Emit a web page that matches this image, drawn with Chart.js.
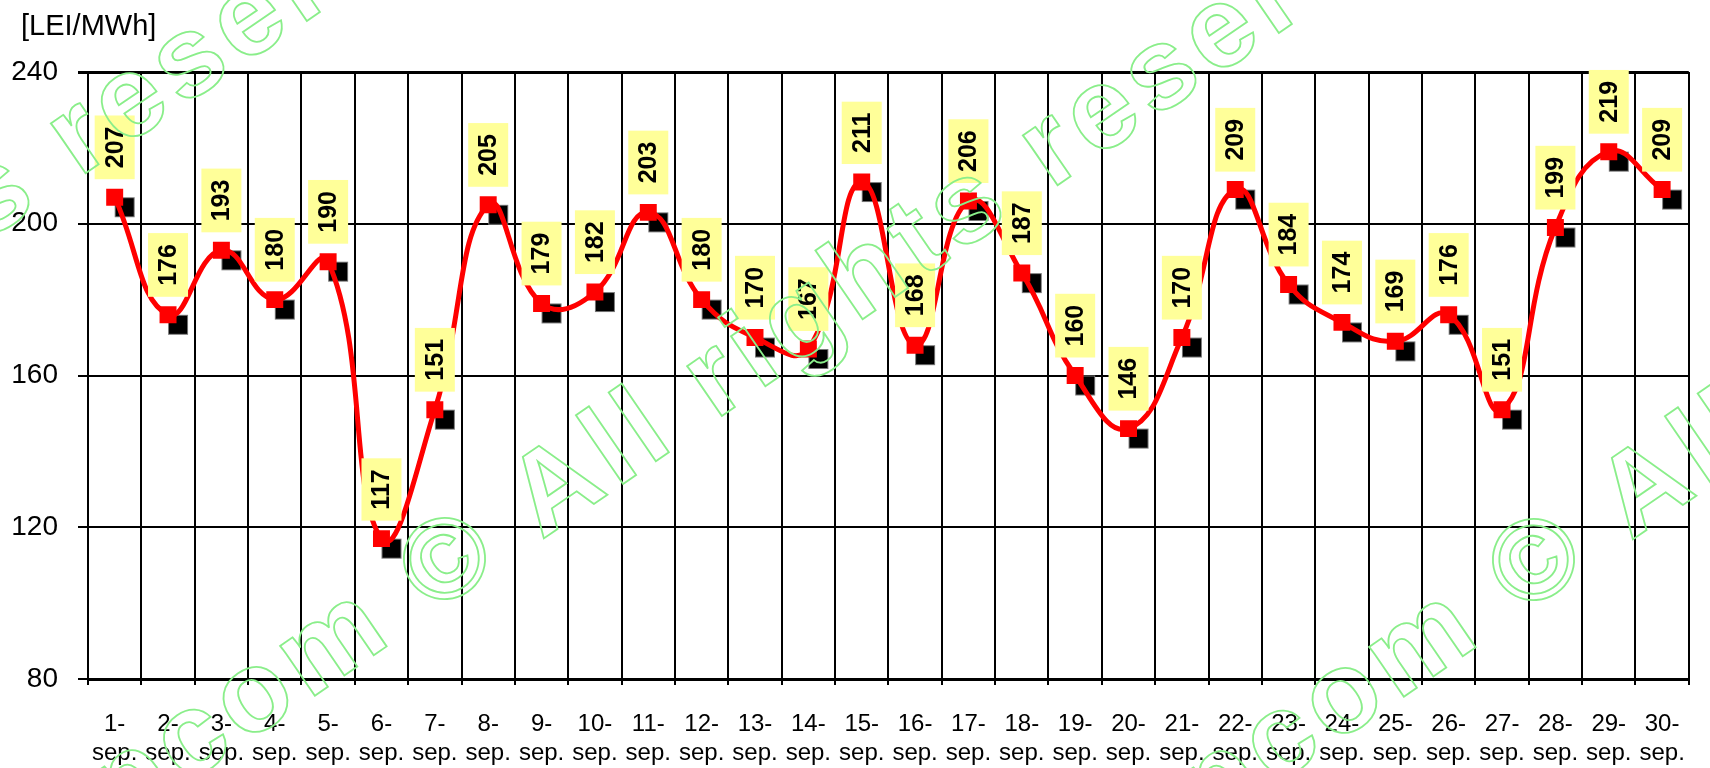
<!DOCTYPE html>
<html>
<head>
<meta charset="utf-8">
<script src="https://cdn.jsdelivr.net/npm/chart.js@4.4.0/dist/chart.umd.min.js"></script>
<style>
    html, body { margin: 0; padding: 0; background: #fff; }
    #wrap { width: 1710px; height: 768px; }
</style>
</head>
<body>
<div id="wrap"><canvas id="priceChart" width="1710" height="768"></canvas></div>
<script>
// Days of September and daily price (LEI/MWh)
const days = [1, 2, 3, 4, 5, 6, 7, 8, 9, 10, 11, 12, 13, 14, 15,
              16, 17, 18, 19, 20, 21, 22, 23, 24, 25, 26, 27, 28, 29, 30];
const prices = [207, 176, 193, 180, 190, 117, 151, 205, 179, 182, 203, 180, 170, 167, 211,
                168, 206, 187, 160, 146, 170, 209, 184, 174, 169, 176, 151, 199, 219, 209];
const monthLabel = 'sep.';
const yMin = 80, yMax = 240, yStep = 40;
const unitTitle = '[LEI/MWh]';
const watermark = 'opcom © All rights reserved';

const FONT = 'Arial, "Liberation Sans", sans-serif';
const labels = days.map(d => [d + '-', monthLabel]);

// Black shadow square used as the marker of the second dataset
function makeShadowMarker() {
    const c = document.createElement('canvas');
    c.width = 52; c.height = 52;
    const g = c.getContext('2d');
    g.fillStyle = '#777';
    g.fillRect(26 + 10 - 10, 26 + 10 - 10, 20, 20);
    g.fillStyle = '#000';
    g.fillRect(26 + 10 - 9, 26 + 10 - 9, 18, 18);
    return c;
}

// Yellow value boxes with rotated numbers
const valueBoxes = {
    id: 'valueBoxes',
    afterDatasetsDraw(chart) {
        const ctx = chart.ctx;
        const meta = chart.getDatasetMeta(0);
        ctx.save();
        ctx.font = 'bold 25px ' + FONT;
        meta.data.forEach((pt, i) => {
            const txt = String(prices[i]);
            const tw = ctx.measureText(txt).width;
            const boxW = 40, boxH = tw + 22;
            const bottom = pt.y - 18;
            ctx.fillStyle = '#ffff99';
            ctx.fillRect(pt.x - boxW / 2, bottom - boxH, boxW, boxH);
            ctx.save();
            ctx.translate(pt.x, bottom - boxH / 2);
            ctx.rotate(-Math.PI / 2);
            ctx.fillStyle = '#000';
            ctx.textAlign = 'center';
            ctx.textBaseline = 'middle';
            ctx.fillText(txt, 0, 1);
            ctx.restore();
        });
        ctx.restore();
    }
};

// Unit title above the y axis + outlined watermark
const decorations = {
    id: 'decorations',
    afterDraw(chart) {
        const ctx = chart.ctx;
        ctx.save();
        ctx.font = '29px ' + FONT;
        ctx.fillStyle = '#000';
        ctx.textBaseline = 'middle';
        ctx.textAlign = 'left';
        ctx.fillText(unitTitle, 21, 27);

        ctx.font = 'bold 115px ' + FONT;
        ctx.letterSpacing = '8px';
        ctx.strokeStyle = '#8aee8a';
        ctx.lineWidth = 1.8;
        const prefix = watermark.split('©')[0];
        const pre = ctx.measureText(prefix).width;
        const half = (ctx.measureText('©').width - 8) / 2;
        [[-523, 553], [449, 565], [1538, 566]].forEach(([cx, cy]) => {
            ctx.save();
            ctx.translate(cx, cy);
            ctx.rotate(-34.5 * Math.PI / 180);
            ctx.textBaseline = 'middle';
            ctx.strokeText(watermark, -pre - half, 0);
            ctx.restore();
        });
        ctx.restore();
    }
};

new Chart(document.getElementById('priceChart'), {
    type: 'line',
    data: {
        labels: labels,
        datasets: [{
            data: prices,
            borderColor: '#ff0000',
            borderWidth: 5,
            tension: 0.45,
            pointStyle: 'rect',
            pointRadius: 12,
            pointBackgroundColor: '#ff0000',
            pointBorderColor: '#ff0000',
            pointBorderWidth: 0
        }, {
            data: prices,
            showLine: false,
            pointStyle: makeShadowMarker(),
            pointRadius: 10
        }]
    },
    options: {
        responsive: false,
        animation: false,
        layout: { padding: { top: 72, left: 0, right: 0, bottom: 0 } },
        plugins: {
            legend: { display: false },
            tooltip: { enabled: false }
        },
        scales: {
            x: {
                offset: true,
                grid: {
                    offset: true,
                    color: '#000',
                    lineWidth: 2,
                    tickLength: 6,
                    tickColor: '#000'
                },
                border: { color: '#000', width: 3 },
                ticks: {
                    color: '#000',
                    font: { family: FONT, size: 24 },
                    padding: 25,
                    maxRotation: 0,
                    autoSkip: false
                },
                afterFit(scale) { scale.height = 89; }
            },
            y: {
                min: yMin,
                max: yMax,
                ticks: {
                    stepSize: yStep,
                    color: '#000',
                    font: { family: FONT, size: 28 },
                    padding: 20
                },
                grid: {
                    color: '#000',
                    lineWidth: ctx => (ctx.tick && ctx.tick.value === yMax) ? 3 : 2,
                    tickLength: 10
                },
                border: { color: '#000', width: 2 },
                afterFit(scale) { scale.width = 88; }
            }
        }
    },
    plugins: [valueBoxes, decorations]
});
</script>
</body>
</html>
